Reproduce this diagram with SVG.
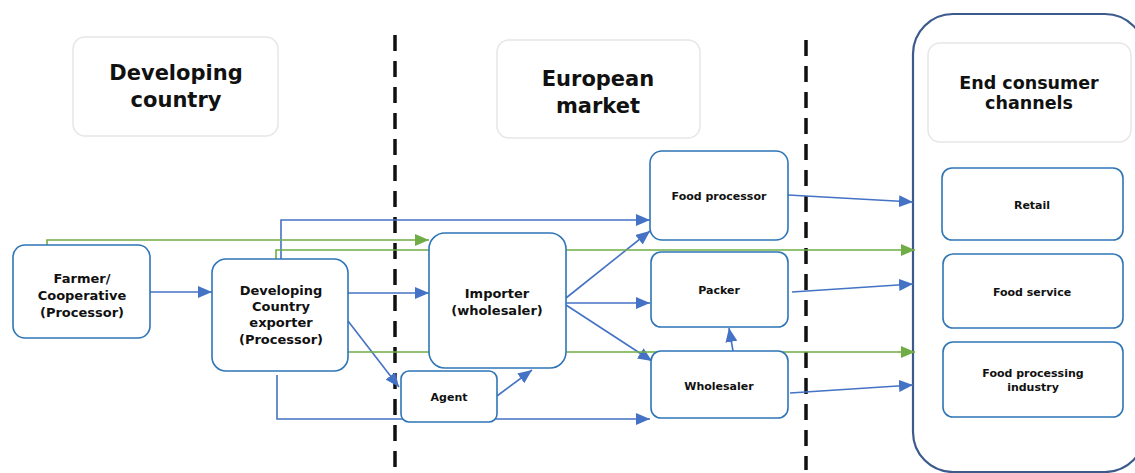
<svg xmlns="http://www.w3.org/2000/svg" width="1135" height="473" viewBox="0 0 1135 473">
<defs>
<style>
.hdr{fill:#fff;stroke:#e6e6e6;stroke-width:1.5}
.node{fill:#fff;stroke:#2e75b6;stroke-width:1.6}
.t{font-family:"DejaVu Sans",Verdana,sans-serif;font-weight:bold;fill:#111;text-anchor:middle}
.h{font-size:21px}
.n{font-size:13px}
.s{font-size:11px}
.b{fill:none;stroke:#4472c4;stroke-width:1.6;marker-end:url(#ab)}
.g{fill:none;stroke:#70ad47;stroke-width:1.6;marker-end:url(#ag)}
.dash{stroke:#111;stroke-width:3.5;stroke-dasharray:16 10}
</style>
<marker id="ab" markerUnits="userSpaceOnUse" markerWidth="14" markerHeight="12" refX="14" refY="6" orient="auto"><path d="M0,0 L14,6 L0,12 z" fill="#4472c4"/></marker>
<marker id="ag" markerUnits="userSpaceOnUse" markerWidth="14" markerHeight="12" refX="14" refY="6" orient="auto"><path d="M0,0 L14,6 L0,12 z" fill="#70ad47"/></marker>
</defs>
<rect width="1135" height="473" fill="#fff"/>
<g id="dividers">
<line class="dash" x1="395" y1="35" x2="395" y2="470"/>
<line class="dash" x1="806" y1="40" x2="806" y2="470"/>
</g>
<g id="end-consumer-frame"><rect x="913" y="14" width="232" height="458" rx="40" fill="none" stroke="#3c5a8c" stroke-width="2.2"/></g>
<g id="hdr-developing"><rect class="hdr" x="73" y="37" width="205" height="99" rx="12"/><text class="t h" x="176" y="80">Developing</text><text class="t h" x="176" y="107">country</text></g>
<g id="hdr-european"><rect class="hdr" x="497" y="40" width="203" height="98" rx="12"/><text class="t h" x="598" y="86">European</text><text class="t h" x="598" y="113">market</text></g>
<g id="hdr-end"><rect class="hdr" x="928" y="43" width="203" height="99" rx="12"/><text class="t" style="font-size:17.5px" x="1029" y="89">End consumer</text><text class="t" style="font-size:17.5px" x="1029" y="109">channels</text></g>
<g id="connectors">
<path class="b" d="M150,292 H212"/>
<path class="b" d="M281,259 V220 H650"/>
<path class="b" d="M348,293 H429"/>
<path class="b" d="M348,321 L399,387"/>
<path class="b" d="M277,375 V419 H650"/>
<path class="b" d="M497,396 L532,370"/>
<path class="b" d="M566,298 L650,231"/>
<path class="b" d="M566,303 H650"/>
<path class="b" d="M566,305 L652,361"/>
<path class="b" d="M733,351 L729,328"/>
<path class="b" d="M788,195 L913,202"/>
<path class="b" d="M792,292 L913,284"/>
<path class="b" d="M790,393 L913,385"/>
<path class="g" d="M47,248 V240 H429"/>
<path class="g" d="M276,259 V250 H915"/>
<path class="g" d="M346,358 V352 H915"/>
</g>
<g id="farmer"><rect class="node" x="13" y="245" width="137" height="93" rx="12"/><text class="t n" x="82" y="283">Farmer/</text><text class="t n" x="82" y="300">Cooperative</text><text class="t n" x="82" y="317">(Processor)</text></g>
<g id="exporter"><rect class="node" x="212" y="259" width="136" height="112" rx="14"/><text class="t n" x="281" y="295">Developing</text><text class="t n" x="281" y="311">Country</text><text class="t n" x="281" y="327">exporter</text><text class="t n" x="281" y="344">(Processor)</text></g>
<g id="importer"><rect class="node" x="429" y="233" width="137" height="135" rx="16"/><text class="t n" x="497" y="298">Importer</text><text class="t n" x="497" y="315">(wholesaler)</text></g>
<g id="agent"><rect class="node" x="401" y="371" width="96" height="51" rx="8"/><text class="t s" x="449" y="401">Agent</text></g>
<g id="food-processor"><rect class="node" x="650" y="151" width="138" height="89" rx="12"/><text class="t s" x="719" y="200">Food processor</text></g>
<g id="packer"><rect class="node" x="651" y="252" width="137" height="75" rx="10"/><text class="t s" x="719" y="294">Packer</text></g>
<g id="wholesaler"><rect class="node" x="651" y="351" width="137" height="67" rx="10"/><text class="t s" x="719" y="390">Wholesaler</text></g>
<g id="retail"><rect class="node" x="942" y="168" width="181" height="72" rx="10"/><text class="t s" x="1032" y="209">Retail</text></g>
<g id="food-service"><rect class="node" x="943" y="254" width="180" height="74" rx="10"/><text class="t s" x="1032" y="296">Food service</text></g>
<g id="food-processing-industry"><rect class="node" x="943" y="342" width="180" height="75" rx="10"/><text class="t s" x="1033" y="377">Food processing</text><text class="t s" x="1033" y="391">industry</text></g>
</svg>
